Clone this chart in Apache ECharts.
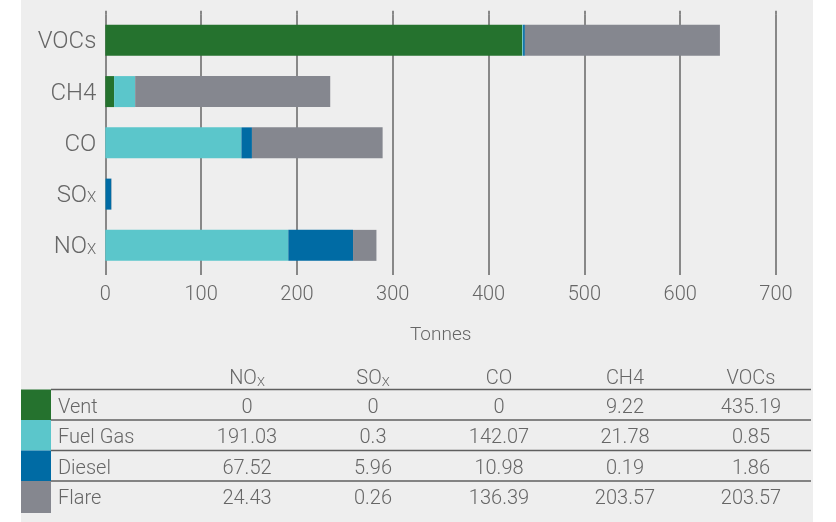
<!DOCTYPE html>
<html>
<head>
<meta charset="utf-8">
<script src="https://cdn.jsdelivr.net/npm/echarts@6/dist/echarts.min.js"></script>
<style>
  html, body { margin: 0; padding: 0; background: #ffffff; }
  #wrap { position: relative; width: 836px; height: 522px; }
  #panel { position: absolute; left: 21px; top: 0; width: 792px; height: 522px; background: #eeeeee; }
  #chart { position: absolute; left: 0; top: 0; width: 836px; height: 522px; }
</style>
</head>
<body>
<div id="wrap">
  <div id="panel"></div>
  <div id="chart"></div>
</div>
<script>
// Emissions by pollutant, stacked by source (tonnes)
const categories = ['NOx', 'SOx', 'CO', 'CH4', 'VOCs'];
const sourceNames = ['Vent', 'Fuel Gas', 'Diesel', 'Flare'];
const vent    = [0, 0, 0, 9.22, 435.19];
const fuelGas = [191.03, 0.3, 142.07, 21.78, 0.85];
const diesel  = [67.52, 5.96, 10.98, 0.19, 1.86];
const flare   = [24.43, 0.26, 136.39, 203.57, 203.57];
const axisMin = 0, axisMax = 700, axisStep = 100;
const axisTitle = 'Tonnes';

const sourceValues = [vent, fuelGas, diesel, flare];
const colors = ['#25722e', '#5bc6cb', '#006ba4', '#85878f'];
const FONT = 'Roboto, "Liberation Sans", sans-serif';
const W = 300;
const TEXT = '#666666';
const RULE = '#666666';

// "NOx" -> NO with a small X subscript
function richName(name, main, sub) {
  if (/x$/.test(name)) return '{' + main + '|' + name.slice(0, -1) + '}{' + sub + '|X}';
  return '{' + main + '|' + name + '}';
}

// Data table under the chart
const tbl = { swatchX: 21, swatchW: 30, lineEnd: 811, labelX: 58, top: 389.5, rowH: 30.5,
              colX0: 247, colStep: 126, headerY: 379, fontSize: 20 };
const graphics = [];
categories.forEach(function (c, j) {
  graphics.push({
    type: 'text', silent: true,
    x: tbl.colX0 + j * tbl.colStep, y: tbl.headerY,
    style: {
      text: richName(c, 'h', 'hs'), align: 'center', verticalAlign: 'middle',
      rich: {
        h: { fontFamily: FONT, fontWeight: W, fontSize: tbl.fontSize, fill: TEXT, lineHeight: 20, verticalAlign: 'middle' },
        hs: { fontFamily: FONT, fontWeight: W, fontSize: 13, fill: TEXT, lineHeight: 13, verticalAlign: 'bottom' }
      }
    }
  });
});
sourceNames.forEach(function (name, i) {
  const y0 = tbl.top + i * tbl.rowH;
  const h = i === sourceNames.length - 1 ? tbl.rowH + 1.5 : tbl.rowH;
  graphics.push({ type: 'rect', silent: true, shape: { x: tbl.swatchX, y: y0, width: tbl.swatchW, height: h },
                  style: { fill: colors[i] } });
  graphics.push({ type: 'line', silent: true,
                  shape: { x1: tbl.swatchX + tbl.swatchW, y1: y0, x2: tbl.lineEnd, y2: y0 },
                  style: { stroke: '#5f5f5f', lineWidth: 1.5 } });
  const cy = y0 + tbl.rowH / 2 + 3;
  graphics.push({ type: 'text', silent: true, x: tbl.labelX, y: cy,
                  style: { text: name, fontFamily: FONT, fontWeight: W, fontSize: tbl.fontSize, fill: TEXT,
                           align: 'left', verticalAlign: 'middle' } });
  sourceValues[i].forEach(function (v, j) {
    graphics.push({ type: 'text', silent: true, x: tbl.colX0 + j * tbl.colStep, y: cy,
                    style: { text: String(v), fontFamily: FONT, fontWeight: W, fontSize: tbl.fontSize, fill: TEXT,
                             align: 'center', verticalAlign: 'middle' } });
  });
});

const chart = echarts.init(document.getElementById('chart'), null, { renderer: 'canvas' });
chart.setOption({
  backgroundColor: 'transparent',
  animation: false,
  grid: { left: 105.3, right: 60, top: 14.7, height: 256.3, containLabel: false },
  xAxis: [{
    type: 'value', min: axisMin, max: axisMax, interval: axisStep,
    name: axisTitle, nameLocation: 'middle', nameGap: 55,
    nameTextStyle: { fontFamily: FONT, fontWeight: W, fontSize: 19, color: TEXT },
    axisLine: { show: false },
    axisTick: { show: true, length: 4, lineStyle: { color: RULE, width: 1.5 } },
    axisLabel: { fontFamily: FONT, fontWeight: W, fontSize: 20, color: TEXT, margin: 14 },
    splitLine: { show: true, lineStyle: { color: RULE, width: 1.5 } }
  }, {
    type: 'value', position: 'top', min: axisMin, max: axisMax, interval: axisStep,
    axisLine: { show: false },
    axisTick: { show: true, length: 4, lineStyle: { color: RULE, width: 1.5 } },
    axisLabel: { show: false },
    splitLine: { show: false }
  }],
  yAxis: {
    type: 'category', data: categories,
    axisLine: { show: false }, axisTick: { show: false },
    axisLabel: {
      margin: 9,
      formatter: function (v) { return richName(v, 'm', 's'); },
      rich: {
        m: { fontFamily: FONT, fontWeight: W, fontSize: 24, color: TEXT, lineHeight: 24, verticalAlign: 'middle', padding: [4, 0, 0, 0] },
        s: { fontFamily: FONT, fontWeight: W, fontSize: 15, color: TEXT, lineHeight: 15, verticalAlign: 'bottom' }
      }
    }
  },
  series: sourceNames.map(function (name, i) {
    return {
      name: name, type: 'bar', stack: 'total', barWidth: 31,
      itemStyle: { color: colors[i] },
      data: sourceValues[i]
    };
  }),
  graphic: graphics
});
</script>
</body>
</html>
